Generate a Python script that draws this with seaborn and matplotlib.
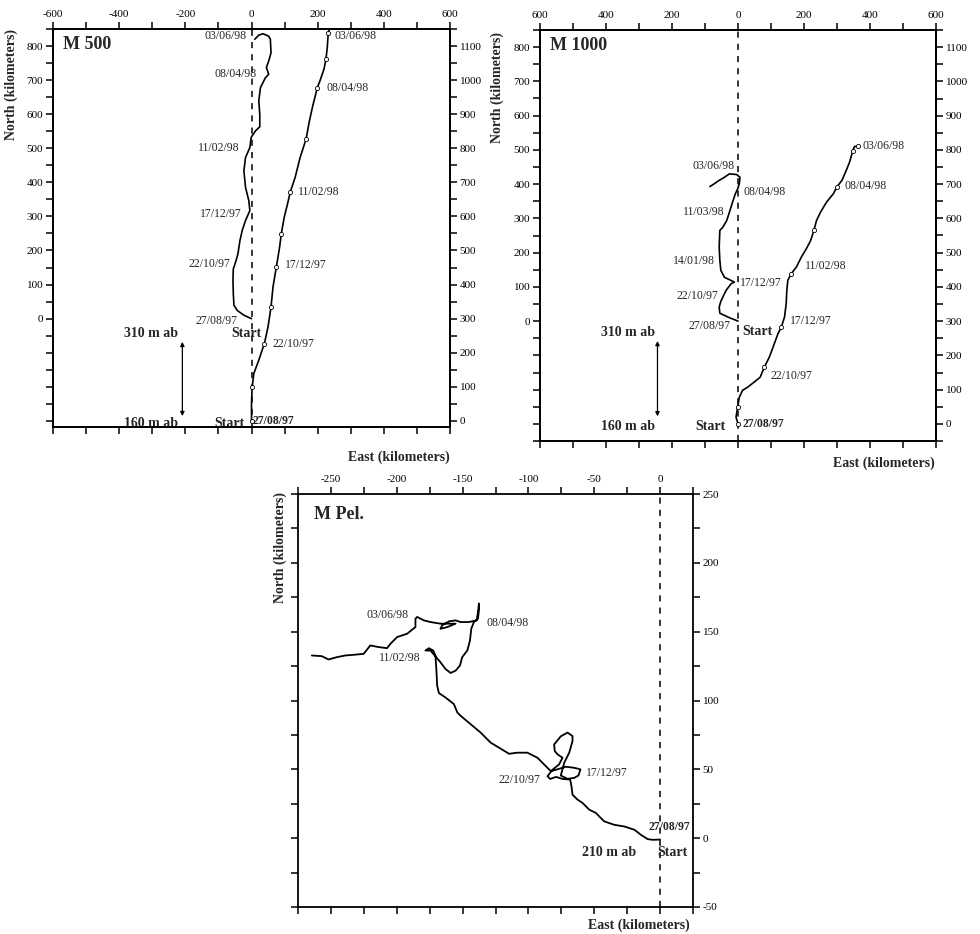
import matplotlib
matplotlib.use("Agg")
import matplotlib.pyplot as plt
import seaborn as sns
from matplotlib.ticker import MultipleLocator, FuncFormatter

# ---- M 500 : 310 m ab (left axis, km) ----
m500_up_east = [0, -23, -43, -53, -55, -56, -55, -48, -41, -35, -28, -18, -5, -8, -18, -23, -18, -5, -1, 12,
                25, 25, 22, 27, 42, 52, 45, 52, 59, 57, 52, 35, 22, 10]
m500_up_north = [0, 10, 24, 39, 73, 112, 146, 166, 190, 229, 259, 288, 317, 346, 385, 434, 473, 502, 532, 551,
                 563, 600, 639, 678, 707, 717, 737, 756, 780, 820, 829, 836, 832, 820]
# ---- M 500 : 160 m ab (right axis, km) ----
m500_dn_east = [0, 0, 2, 7, 22, 39, 50, 59, 65, 75, 85, 90, 99, 109, 117, 132, 147, 165, 175, 185,
                199, 207, 219, 225, 229, 232, 237]
m500_dn_north = [0, 51, 100, 139, 178, 227, 276, 334, 393, 451, 510, 549, 598, 637, 671, 715, 773, 827, 880, 924,
                 978, 998, 1032, 1061, 1095, 1139, 1152]

# ---- M 1000 : 310 m ab ----
m1000_up_east = [0, -26, -55, -57, -52, -46, -36, -21, -11, -26, -41, -52, -55, -57, -55, -46, -34, -26, -18, -8,
                 -1, 4, 6, -4, -26, -41, -57, -72, -85]
m1000_up_north = [0, 10, 23, 41, 58, 70, 90, 109, 114, 121, 128, 148, 177, 216, 265, 274, 294, 318, 343, 372,
                  386, 401, 420, 428, 430, 420, 411, 401, 393]
# ---- M 1000 : 160 m ab ----
m1000_dn_east = [0, -6, -1, 4, 14, 29, 49, 67, 80, 95, 110, 121, 131, 141, 146, 148, 151, 161, 177, 192,
                 207, 220, 230, 238, 250, 268, 289, 299, 315, 328, 338, 348, 353, 363]
m1000_dn_north = [0, 20, 49, 78, 98, 107, 122, 136, 166, 195, 234, 263, 282, 312, 351, 390, 419, 438, 458, 487,
                  511, 535, 565, 594, 618, 647, 672, 691, 711, 740, 764, 798, 810, 810]

# ---- M Pel. : 210 m ab ----
pel_east = [0, -5.6, -9.4, -14.5, -19.5, -27.2, -34.8, -42.4, -46.2, -48.7, -53.8, -58.9, -62.7, -66.5, -67.3,
            -68.3, -74, -79, -83.5, -85.5, -82.5, -78, -71.6, -65.2, -60.5, -62, -65.2, -70.3, -75.4, -72.8, -69,
            -66.5, -66.5, -70.3, -75.4, -80.5, -80, -77.9, -74.1, -76.7, -83, -93.1, -100.8, -108.4, -114.7,
            -122.3, -128.7, -136.3, -143.9, -151.5, -154, -156.6, -163, -168, -169.3, -169.8, -170.6, -172.3,
            -175.6, -178.2, -174.4, -166.8, -163, -159.1, -155.3, -152, -150.3, -146.4, -144.4, -143.4, -141.4,
            -138.3, -137.6, -137.6, -138.3, -139.3, -145.2, -151.5, -155.3, -160.4, -165.5, -166.8, -161.7,
            -155.3, -166.8, -174.4, -179.4, -184.5, -185.8, -185.8, -192.1, -199.7, -204.8, -207.4, -213.7,
            -220.1, -225.1, -232.7, -239.1, -245.4, -251.8, -256.9, -264.5]
pel_north = [-1, -1.2, -0.7, 2.4, 6.1, 8.5, 9.7, 12.2, 15.8, 18.3, 20.7, 25.6, 28, 31.6, 37.7,
             42.6, 43, 44.5, 43, 45, 48.7, 50, 51.9, 51.1, 50, 45.5, 43.8, 43.1, 45.5, 54.8, 62.1,
             70.6, 74.2, 76.7, 74, 68, 63.3, 60.9, 58.4, 53.6, 48.7, 58.4, 62.1, 62.1, 61.3,
             65.7, 69.4, 76.7, 82.8, 88.9, 91.3, 97.4, 102.2, 105.4, 110.8, 120.5, 132.7, 136.3,
             138, 136.3, 136.3, 127.8, 122.9, 120, 121.7, 125.4, 131.5, 136.3, 143.6, 152.1, 157,
             159.4, 165.5, 170.4, 164.3, 158.2, 157, 157, 158.2, 157.5, 154.6, 152.1, 153.3,
             155.8, 155.8, 157, 158.2, 160.7, 159.4, 153.4, 148.5, 146.1, 141.2, 138, 138.8,
             140, 133.9, 133.2, 132.7, 131.5, 129.8, 132.2, 132.7]

sns.set_theme(style="ticks")
plt.rcParams["font.family"] = ["Liberation Serif", "DejaVu Serif"]
plt.rcParams["axes.unicode_minus"] = False
plt.rcParams["axes.edgecolor"] = "black"


def track(ax, east, north, lw=1.2, **kw):
    sns.lineplot(x=east, y=north, ax=ax, sort=False, estimator=None, color="black", lw=lw, **kw)


def fmt(step, lo, hi, absval=False):
    def f(v, pos):
        r = int(round(v))
        if r % step == 0 and lo <= r <= hi:
            return str(abs(r)) if absval else str(r)
        return ""
    return FuncFormatter(f)


def frame(ax):
    for s in ax.spines.values():
        s.set_linewidth(1.3)
        s.set_color("black")
    ax.tick_params(which="both", direction="out", length=5, width=1.1, labelsize=8,
                   colors="black", pad=2)


circ = dict(marker="o", ms=3, mfc="white", mec="black", mew=0.6)
arrow = dict(arrowstyle="<|-|>", color="black", lw=0.9, mutation_scale=6, shrinkA=0, shrinkB=0)
DATE_FS = 8.5

fig = plt.figure(figsize=(9.8, 9.34), dpi=100)


def mooring_panel(rect, ylo, absval, up, dn, dn_marks, name, up_labels, dn_labels, bold_labels, arrow_x,
                  arrow_y, ylab_x, xlab_xy):
    ax = fig.add_axes(rect)
    axr = ax.twinx()
    ax.axvline(0, color="black", lw=1.1, ls=(0, (4, 4)))
    track(ax, up[0], up[1])
    track(axr, dn[0], dn[1], markevery=dn_marks, **circ)
    ax.set_xlim(-600, 600)
    ax.set_ylim(ylo, 850)
    axr.set_ylim(ylo + 300, 1150)
    for a in (ax, axr):
        frame(a)
    ax.xaxis.set_major_locator(MultipleLocator(100))
    ax.xaxis.set_major_formatter(fmt(200, -600, 600, absval))
    ax.tick_params(axis="x", top=True, bottom=True, labeltop=True, labelbottom=False)
    ax.yaxis.set_major_locator(MultipleLocator(50))
    ax.yaxis.set_major_formatter(fmt(100, 0, 800))
    axr.yaxis.set_major_locator(MultipleLocator(50))
    axr.yaxis.set_major_formatter(fmt(100, 0, 1100))
    ax.set_ylabel("North (kilometers)", fontsize=10, fontweight="bold")
    ax.yaxis.set_label_coords(ylab_x, 0.86)
    ax.set_xlabel("East (kilometers)", fontsize=10, fontweight="bold", loc="right")
    ax.xaxis.set_label_coords(*xlab_xy)
    axr.set_ylabel("")
    ax.text(-570, 805, name, fontsize=13, fontweight="bold", ha="left", va="center")
    for s, x, y, ha in up_labels:
        ax.text(x, y, s, ha=ha, va="center", fontsize=DATE_FS)
    for s, x, y in dn_labels:
        axr.text(x, y, s, ha="left", va="center", fontsize=DATE_FS)
    for s, x, y, ha, fs in bold_labels:
        ax.text(x, y, s, ha=ha, va="center", fontsize=fs, fontweight="bold")
    ax.annotate("", xy=(arrow_x, arrow_y[0]), xytext=(arrow_x, arrow_y[1]), arrowprops=arrow)
    return ax


mooring_panel([53 / 980, 1 - 427 / 934, 397 / 980, 398 / 934], -318, False,
              (m500_up_east, m500_up_north), (m500_dn_east, m500_dn_north),
              [0, 2, 5, 7, 9, 11, 14, 17, 20, 23, 25], "M 500",
              [("03/06/98", -15, 829, "right"), ("08/04/98", 15, 719, "right"), ("11/02/98", -35, 500, "right"),
               ("17/12/97", -30, 307, "right"), ("22/10/97", -65, 159, "right"), ("27/08/97", -43, -7, "right")],
              [("03/06/98", 252, 1129), ("08/04/98", 227, 978), ("11/02/98", 141, 673),
               ("17/12/97", 101, 456), ("22/10/97", 64, 227)],
              [("Start", -15, -44, "center", 10), ("310 m ab", -305, -44, "center", 10),
               ("160 m ab", -305, -307, "center", 10), ("Start", -66, -307, "center", 10),
               ("27/08/97", 3, -300, "left", 8.5)],
              -209, (-68, -286), -0.087, (1.0, -0.06))

mooring_panel([540 / 980, 1 - 441 / 934, 396 / 980, 411 / 934], -350, True,
              (m1000_up_east, m1000_up_north), (m1000_dn_east, m1000_dn_north),
              [0, 2, 8, 12, 17, 22, 27, 31, 33], "M 1000",
              [("03/06/98", -9, 453, "right"), ("08/04/98", 18, 377, "left"), ("11/03/98", -41, 318, "right"),
               ("14/01/98", -69, 177, "right"), ("17/12/97", 6, 111, "left"), ("22/10/97", -60, 72, "right"),
               ("27/08/97", -22, -13, "right")],
              [("03/06/98", 378, 811), ("08/04/98", 324, 694), ("11/02/98", 203, 460),
               ("17/12/97", 158, 300), ("22/10/97", 97, 141)],
              [("Start", 13, -30, "left", 10), ("310 m ab", -333, -32, "center", 10),
               ("160 m ab", -333, -307, "center", 10), ("Start", -85, -307, "center", 10),
               ("27/08/97", 13, -300, "left", 8.5)],
              -244, (-58, -278), -0.09, (0.997, -0.037))

# ---- M Pel. ----
ax3 = fig.add_axes([298 / 980, 1 - 907 / 934, 395 / 980, 413 / 934])
ax3.axvline(0, color="black", lw=1.1, ls=(0, (4, 4)))
track(ax3, pel_east, pel_north, lw=1.3)
ax3.set_xlim(-275, 25)
ax3.set_ylim(-50, 250)
frame(ax3)
ax3.xaxis.set_major_locator(MultipleLocator(25))
ax3.xaxis.set_major_formatter(fmt(50, -250, 0))
ax3.tick_params(axis="x", top=True, bottom=True, labeltop=True, labelbottom=False)
ax3.yaxis.set_major_locator(MultipleLocator(25))
ax3.yaxis.set_major_formatter(fmt(50, -50, 250))
ax3.tick_params(axis="y", left=True, right=True, labelleft=False, labelright=True)
ax3.set_ylabel("North (kilometers)", fontsize=10, fontweight="bold")
ax3.yaxis.set_label_position("left")
ax3.yaxis.set_label_coords(-0.029, 0.87)
ax3.set_xlabel("East (kilometers)", fontsize=10, fontweight="bold", loc="right")
ax3.xaxis.set_label_coords(0.992, -0.027)
ax3.text(-262.7, 235.4, "M Pel.", fontsize=13, fontweight="bold", ha="left", va="center")
for s, x, y, ha in [("03/06/98", -190.9, 161.9, "right"), ("08/04/98", -131.7, 156.5, "left"),
                    ("11/02/98", -182, 130.7, "right"), ("22/10/97", -90.6, 41.9, "right"),
                    ("17/12/97", -56.3, 47.5, "left")]:
    ax3.text(x, y, s, ha=ha, va="center", fontsize=DATE_FS)
for s, x, y, fs in [("27/08/97", 7.1, 7.8, 8.5), ("Start", 9.1, -10.5, 10), ("210 m ab", -38.8, -10.5, 10)]:
    ax3.text(x, y, s, ha="center", va="center", fontsize=fs, fontweight="bold")

fig.savefig("out.png", dpi=100, facecolor="white")
